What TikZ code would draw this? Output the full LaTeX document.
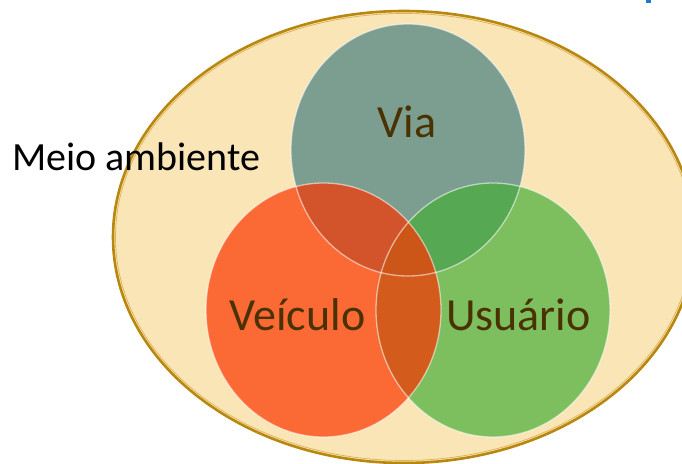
\documentclass[tikz,border=0pt]{standalone}
\usepackage{fontspec}
\setmainfont{Carlito}
\definecolor{envfill}{HTML}{F9E5B5}
\definecolor{envline}{HTML}{B8870F}
\definecolor{envinner}{HTML}{DDB356}
\definecolor{viafill}{HTML}{7B9E90}
\definecolor{veicfill}{HTML}{FB6935}
\definecolor{usufill}{HTML}{7DBF5E}
\definecolor{viaveic}{HTML}{D3532A}
\definecolor{viausu}{HTML}{56A852}
\definecolor{veicusu}{HTML}{D35B1B}
\definecolor{triple}{HTML}{CB5617}
\definecolor{labelcol}{HTML}{4A3200}
\definecolor{markblue}{HTML}{1F78C8}
\tikzset{
  setlabel/.style={font=\fontsize{46}{50}\selectfont, text=labelcol, inner sep=0pt, anchor=base},
  rim/.style={draw=white, draw opacity=0.55, line width=1.3pt},
}
\begin{document}
\begin{tikzpicture}[x=1pt,y=-1pt]
\useasboundingbox (0,0) rectangle (682,463);
\begin{scope}
\clip (0,0) rectangle (682,463);
% environment ellipse
\fill[envfill] (404,237) ellipse [x radius=291, y radius=226];
\draw[envline, line width=2.6pt] (404,237) ellipse [x radius=291, y radius=226];
\draw[envinner, line width=0.7pt] (404,237) ellipse [x radius=288.5, y radius=223.5];
% circles
\fill[viafill] (408,150) ellipse [x radius=117, y radius=126];
\fill[veicfill] (323.5,310) ellipse [x radius=117.5, y radius=127];
\fill[usufill] (493,310) ellipse [x radius=117, y radius=127];
% intersections
\begin{scope}
  \clip (408,150) ellipse [x radius=117, y radius=126];
  \fill[viaveic] (323.5,310) ellipse [x radius=117.5, y radius=127];
  \fill[viausu] (493,310) ellipse [x radius=117, y radius=127];
\end{scope}
\begin{scope}
  \clip (323.5,310) ellipse [x radius=117.5, y radius=127];
  \fill[veicusu] (493,310) ellipse [x radius=117, y radius=127];
  \clip (493,310) ellipse [x radius=117, y radius=127];
  \fill[triple] (408,150) ellipse [x radius=117, y radius=126];
\end{scope}
% rims
\draw[rim] (408,150) ellipse [x radius=117, y radius=126];
\draw[rim] (493,310) ellipse [x radius=117, y radius=127];
\draw[rim] (323.5,310) ellipse [x radius=117.5, y radius=127];
% blue mark
\fill[markblue] (646,0) rectangle (651,2.5);
\end{scope}
% labels
\node[setlabel] (via) at (407,137) {Via};
\node[setlabel] (veiculo) at (297.5,330) {Veículo};
\node[setlabel] (usuario) at (518.5,330) {Usuário};
\node[font=\fontsize{40}{44}\selectfont, text=black, inner sep=0pt, anchor=base west] (meio) at (12,170) {Meio ambiente};
\end{tikzpicture}
\end{document}
